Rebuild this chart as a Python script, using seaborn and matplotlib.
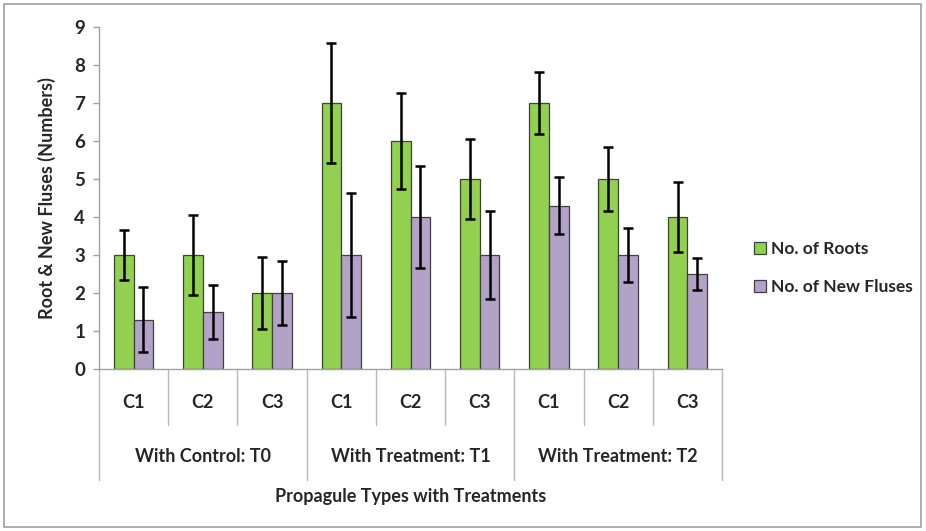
import matplotlib
matplotlib.use("Agg")
import matplotlib.pyplot as plt
import matplotlib.transforms as mtransforms
from matplotlib.patches import Rectangle
import seaborn as sns
import pandas as pd

# ---- data ----
groups = ["With Control: T0", "With Treatment: T1", "With Treatment: T2"]
cuttings = ["C1", "C2", "C3"]
series = ["No. of Roots", "No. of New Fluses"]
roots = [3, 3, 2, 7, 6, 5, 7, 5, 4]
roots_err = [0.65, 1.05, 0.95, 1.58, 1.26, 1.06, 0.82, 0.83, 0.93]
fluses = [1.3, 1.5, 2, 3, 4, 3, 4.3, 3, 2.5]
fluses_err = [0.85, 0.7, 0.85, 1.63, 1.34, 1.17, 0.76, 0.7, 0.41]

cats = [f"{g}|{c}" for g in groups for c in cuttings]
df = pd.DataFrame({
    "cat": cats * 2,
    "value": roots + fluses,
    "series": [series[0]] * len(cats) + [series[1]] * len(cats),
})

sns.set_style("white")
plt.rcParams["font.family"] = ["Lato", "DejaVu Sans"]
FW = "bold"
FS = 13

fig = plt.figure(figsize=(9.26, 5.31), dpi=100)
ax = fig.add_axes([99 / 926, 1 - 369 / 531, (722 - 99) / 926, (369 - 27) / 531])

green = "#92D050"
purple = "#B3A2C7"
sns.barplot(data=df, x="cat", y="value", hue="series", order=cats, hue_order=series,
            palette=[green, purple], width=0.57, gap=0, errorbar=None,
            edgecolor="#404040", linewidth=0.9, ax=ax, saturation=1)

for cont, errs in zip(ax.containers, [roots_err, fluses_err]):
    xs = [p.get_x() + p.get_width() / 2 for p in cont.patches]
    hs = [p.get_height() for p in cont.patches]
    ax.errorbar(xs, hs, yerr=errs, fmt="none", ecolor="black", elinewidth=1.8,
                capsize=3.5, capthick=1.8, zorder=5)

ax.set_ylim(0, 9)
ax.set_xlim(-0.5, len(cats) - 0.5)
ax.set_yticks(range(0, 10))
ax.set_xticks([])
ax.set_xlabel("")
ax.set_ylabel("Root & New Fluses (Numbers)", fontsize=FS, fontweight=FW, labelpad=13)
ax.tick_params(axis="y", direction="out", length=4, color="#a0a0a0", width=1,
               labelsize=13.5, left=True, pad=6)
for lbl in ax.get_yticklabels():
    lbl.set_fontweight(FW)
for s in ["top", "right"]:
    ax.spines[s].set_visible(False)
for s in ["left", "bottom"]:
    ax.spines[s].set_color("#a0a0a0")
    ax.spines[s].set_linewidth(1)

trans = mtransforms.blended_transform_factory(ax.transData, ax.transAxes)
lc = "#b8b8b8"
for i in range(len(cats) + 1):
    xb = i - 0.5
    ybot = -0.3246 if i % 3 == 0 else -0.1637
    ax.plot([xb, xb], [0, ybot], transform=trans, color=lc, lw=1, clip_on=False)
for i, c in enumerate(cats):
    ax.text(i, -0.0965, c.split("|")[1], transform=trans, ha="center", va="center",
            fontsize=FS, fontweight=FW)
for gi, g in enumerate(groups):
    ax.text(gi * 3 + 1, -0.257, g, transform=trans, ha="center", va="center",
            fontsize=FS, fontweight=FW)
ax.text(4, -0.374, "Propagule Types with Treatments", transform=trans, ha="center",
        va="center", fontsize=FS, fontweight=FW)

handles = [Rectangle((0, 0), 1, 1, facecolor=green, edgecolor="#404040", lw=0.9),
           Rectangle((0, 0), 1, 1, facecolor=purple, edgecolor="#404040", lw=0.9)]
ax.legend(handles, series, loc="center left", bbox_to_anchor=(738 / 926, 1 - 268 / 531),
          bbox_transform=fig.transFigure, frameon=False, handlelength=0.7,
          handleheight=0.7, handletextpad=0.3, labelspacing=1.25,
          prop={"size": 12.5, "weight": FW})

fig.patches.append(Rectangle((4 / 926, 4 / 531), 917 / 926, 523 / 531, transform=fig.transFigure,
                             fill=False, edgecolor="#a0a0a0", lw=1.2))

fig.savefig("out.png", dpi=100)
